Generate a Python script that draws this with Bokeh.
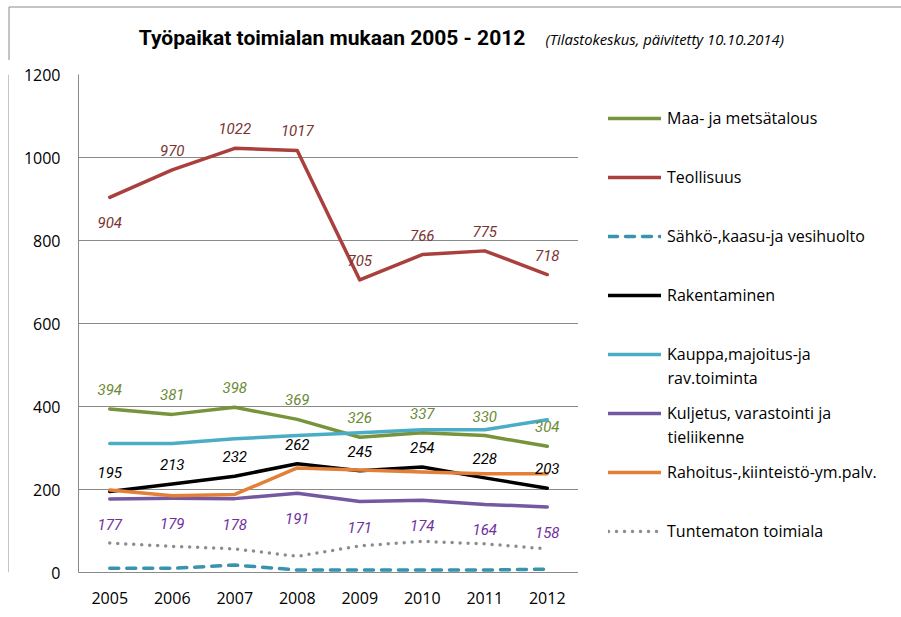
from bokeh.plotting import figure
from bokeh.layouts import column, row
from bokeh.models import (ColumnDataSource, LabelSet, Legend, LegendItem,
                          FixedTicker, Range1d, FactorRange)
from bokeh.core.properties import value
from bokeh.embed import file_html
from bokeh.resources import INLINE

# ---------------- data ----------------
years = ["2005", "2006", "2007", "2008", "2009", "2010", "2011", "2012"]
series_names = [
    "Maa- ja metsätalous",
    "Teollisuus",
    "Sähkö-,kaasu-ja vesihuolto",
    "Rakentaminen",
    "Kauppa,majoitus-ja\nrav.toiminta",
    "Kuljetus, varastointi ja\ntieliikenne",
    "Rahoitus-,kiinteistö-ym.palv.",
    "Tuntematon toimiala",
]
maa = [394, 381, 398, 369, 326, 337, 330, 304]
teollisuus = [904, 970, 1022, 1017, 705, 766, 775, 718]
sahko = [10, 10, 18, 6, 6, 6, 6, 8]
rakentaminen = [195, 213, 232, 262, 245, 254, 228, 203]
kauppa = [311, 311, 322, 330, 337, 344, 344, 368]
kuljetus = [177, 179, 178, 191, 171, 174, 164, 158]
rahoitus = [199, 185, 188, 252, 247, 242, 238, 238]
tuntematon = [71, 63, 57, 39, 64, 75, 69, 57]
y_ticks = [0, 200, 400, 600, 800, 1000, 1200]
title_text = "Työpaikat toimialan mukaan 2005 - 2012"
subtitle_text = "(Tilastokeskus, päivitetty 10.10.2014)"

series_values = [maa, teollisuus, sahko, rakentaminen, kauppa, kuljetus, rahoitus, tuntematon]

# ---------------- styles ----------------
colors = ["#77933C", "#A9403D", "#3A93AD", "#000000", "#4BACC6", "#7458A0", "#E37F36", "#8C8C8C"]
dashes = ["solid", "solid", "9 8", "solid", "solid", "solid", "solid", "0 8"]
FONT = "Open Sans"
LFONT = "Roboto"
BORDER = "#8A8A8A"
LINE_W = 3.5

label_cfg = {
    0: ("#6B8A35", "above"),
    1: ("#7A3331", "above_first_below"),
    3: ("#000000", "above"),
    5: ("#7030A0", "below"),
}

W, H = 901, 617
HDR_H = 60
STRIP_W = 9
FRAME_TOP = 74
FRAME_LEFT = 78
FW, FH = 500, 498
FT = FRAME_TOP - HDR_H
FB = H - FRAME_TOP - FH
FL = FRAME_LEFT - STRIP_W
LEG_W = W - FRAME_LEFT - FW
BODY_H = H - HDR_H


def blank(width, height, xr, yr):
    f = figure(width=width, height=height, x_range=xr, y_range=yr, title=None,
               x_axis_type=None, y_axis_type=None, min_border=0,
               output_backend="svg", toolbar_location=None, tools="")
    f.outline_line_color = None
    f.background_fill_color = "white"
    f.border_fill_color = "white"
    f.grid.visible = False
    return f


# ---------------- header (title + outer border) ----------------
hdr = blank(W, HDR_H, Range1d(0, W), Range1d(HDR_H, 0))
hdr.text(x=[331.5], y=[37], text=[title_text], text_align="center",
         text_baseline="middle", text_font=value(LFONT), text_font_style="bold",
         text_font_size="21px", text_color="#000000")
hdr.text(x=[545], y=[38], text=[subtitle_text], text_align="left",
         text_baseline="middle", text_font=value(FONT), text_font_style="italic",
         text_font_size="14.8px", text_color="#000000")
hdr.segment(x0=[8.5, 8.5], y0=[6.5, 6.5], x1=[W, 8.5], y1=[6.5, HDR_H],
            line_color=BORDER, line_width=1)

strip = blank(STRIP_W, BODY_H, Range1d(0, STRIP_W), Range1d(0, BODY_H))
strip.segment(x0=[8.5], y0=[0], x1=[8.5], y1=[BODY_H], line_color=BORDER, line_width=1)

# ---------------- main chart ----------------
p = figure(x_range=FactorRange(*years), y_range=Range1d(0, 1200), title=None,
           frame_width=FW, frame_height=FH,
           min_border_left=FL, min_border_right=0, min_border_top=FT, min_border_bottom=FB,
           output_backend="svg", toolbar_location=None, tools="")
p.outline_line_color = None
p.background_fill_color = "white"
p.border_fill_color = "white"

p.xgrid.grid_line_color = None
p.ygrid.grid_line_color = BORDER
p.ygrid.grid_line_width = 1
p.yaxis.ticker = FixedTicker(ticks=y_ticks)

for ax in (p.xaxis[0], p.yaxis[0]):
    ax.axis_line_color = BORDER
    ax.axis_line_width = 1
    ax.major_tick_line_color = None
    ax.minor_tick_line_color = None
    ax.major_tick_out = 0
    ax.major_tick_in = 0
    ax.major_label_text_font = FONT
    ax.major_label_text_font_size = "16px"
    ax.major_label_text_color = "#000000"
p.yaxis.major_label_standoff = 18
p.xaxis.major_label_standoff = 19

for i, vals in enumerate(series_values):
    src = ColumnDataSource(dict(x=years, y=vals))
    p.line("x", "y", source=src, line_color=colors[i], line_width=LINE_W,
           line_dash=dashes[i], line_cap="round", line_join="round")

for i, (tcol, rule) in label_cfg.items():
    vals = series_values[i]
    offs = []
    for k, v in enumerate(vals):
        if rule == "above":
            offs.append(14)
        elif rule == "below":
            offs.append(-31)
        else:
            offs.append(-31 if k == 0 else 14)
    src = ColumnDataSource(dict(x=years, y=vals, t=[str(v) for v in vals], off=offs))
    p.add_layout(LabelSet(x="x", y="y", text="t", source=src, y_offset="off",
                          text_align="center", text_baseline="bottom",
                          text_font=value(LFONT), text_font_style="italic",
                          text_font_size="15px", text_color=tcol))

# ---------------- legend panel (frame aligned with the chart frame; page coords) ----------------
FRAME_BOTTOM = FRAME_TOP + FH
lf = figure(frame_width=LEG_W, frame_height=FH, title=None,
            x_range=Range1d(0, LEG_W), y_range=Range1d(FRAME_BOTTOM, FRAME_TOP),
            x_axis_type=None, y_axis_type=None,
            min_border_left=0, min_border_right=0, min_border_top=FT, min_border_bottom=FB,
            output_backend="svg", toolbar_location=None, tools="")
lf.outline_line_color = None
lf.background_fill_color = "white"
lf.border_fill_color = "white"
lf.grid.visible = False

ITEM_H = 26
PITCH = 59
GLYPH_W = 53
STANDOFF = 6
LEG_X = 30
first_center = 118.3
n = len(series_names)
legend_h = n * ITEM_H + (n - 1) * (PITCH - ITEM_H)
vy = FRAME_BOTTOM - (first_center - ITEM_H / 2) - legend_h

items = []
for i, name in enumerate(series_names):
    # sample renderer living outside the visible window; only its legend glyph is seen
    r = lf.line(x=[-50, -40], y=[-50, -50], line_color=colors[i], line_width=LINE_W,
                line_dash=dashes[i], line_cap="round")
    items.append(LegendItem(label=name.split("\n")[0], renderers=[r]))
legend = Legend(items=items, location=(LEG_X, vy),
                orientation="vertical", spacing=PITCH - ITEM_H, padding=0, margin=0,
                glyph_width=GLYPH_W, glyph_height=ITEM_H, label_height=ITEM_H,
                label_standoff=STANDOFF, border_line_color=None, background_fill_alpha=0,
                label_text_font=FONT, label_text_font_size="16px",
                label_text_color="#000000")
lf.add_layout(legend)

cont_x, cont_y, cont_t = [], [], []
for i, name in enumerate(series_names):
    parts = name.split("\n")
    if len(parts) > 1:
        cont_x.append(LEG_X + GLYPH_W + STANDOFF)
        cont_y.append(first_center + i * PITCH + 23)
        cont_t.append(parts[1])
lf.text(x=cont_x, y=cont_y, text=cont_t, text_align="left", text_baseline="middle",
        text_font=value(FONT), text_font_size="16px", text_color="#000000")

layout = column(hdr, row(strip, p, lf, spacing=0), spacing=0)
open("out.html", "w").write(file_html(layout, INLINE))
